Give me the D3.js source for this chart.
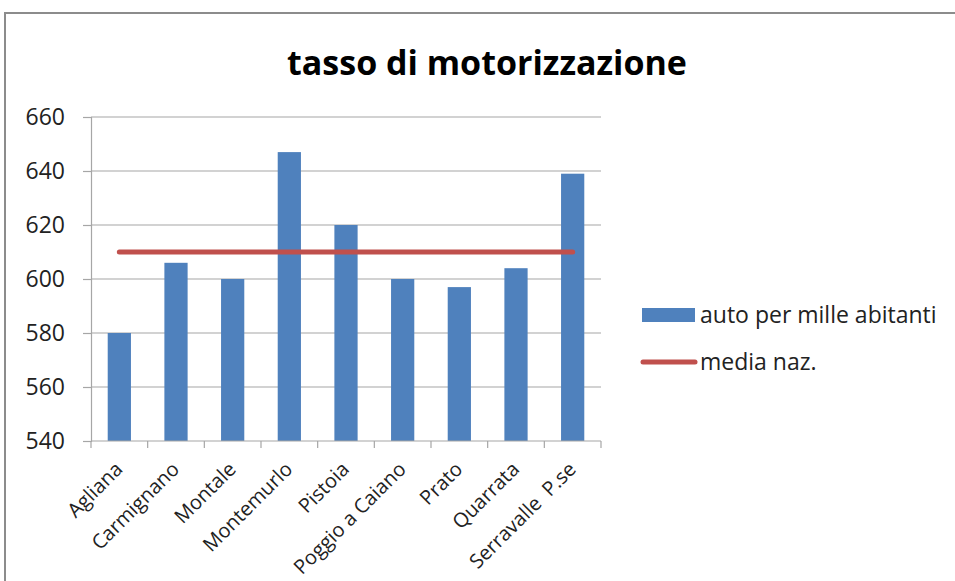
<!DOCTYPE html>
<html>
<head>
<meta charset="utf-8">
<script src="https://cdn.jsdelivr.net/npm/d3@7"></script>
<style>
body { margin: 0; background: #fff; }
svg { display: block; font-family: "Open Sans", sans-serif; }
</style>
</head>
<body>
<svg width="955" height="581"></svg>
<script>
var comuni = ["Agliana", "Carmignano", "Montale", "Montemurlo", "Pistoia", "Poggio a Caiano", "Prato", "Quarrata", "Serravalle  P.se"];
var autoPerMille = [580, 606, 600, 647, 620, 600, 597, 604, 639];
var mediaNaz = [610, 610, 610, 610, 610, 610, 610, 610, 610];
var yTicks = [540, 560, 580, 600, 620, 640, 660];

var svg = d3.select("svg"),
  margin = {top: 117, left: 91},
  width = 510,
  height = 324;

// chart frame
svg.append("path")
  .attr("d", "M5,581V13H955")
  .attr("fill", "none")
  .attr("stroke", "#8c8c8c")
  .attr("stroke-width", 2);

svg.append("text")
  .attr("x", 487)
  .attr("y", 75)
  .attr("text-anchor", "middle")
  .style("font-size", "34px")
  .style("font-weight", "bold")
  .attr("fill", "#000")
  .text("tasso di motorizzazione");

var g = svg.append("g").attr("transform", "translate(" + margin.left + "," + margin.top + ")");

var x = d3.scaleBand().domain(comuni).range([0, width]).paddingInner(0.59).paddingOuter(0.295),
  xb = d3.scaleBand().domain(comuni).range([0, width]),
  y = d3.scaleLinear().domain([540, 660]).range([height, 0]);

// gridlines
g.append("g")
  .selectAll("line")
  .data(yTicks.slice(1))
  .enter().append("line")
  .attr("x1", 0).attr("x2", width)
  .attr("y1", function(d) { return y(d); })
  .attr("y2", function(d) { return y(d); })
  .attr("stroke", "#a6a6a6")
  .attr("stroke-width", 1.2);

var yAxis = g.append("g")
  .call(d3.axisLeft(y).tickValues(yTicks).tickSize(8).tickPadding(18));
yAxis.select(".domain").attr("stroke", "#a6a6a6").attr("stroke-width", 1.2);
yAxis.selectAll(".tick line").attr("stroke", "#a6a6a6").attr("stroke-width", 1.2);
yAxis.selectAll("text").style("font-size", "23px").attr("fill", "#222").attr("font-family", "Open Sans");

// bars
g.selectAll(".bar")
  .data(comuni)
  .enter().append("rect")
  .attr("class", "bar")
  .attr("x", function(d) { return x(d); })
  .attr("width", x.bandwidth())
  .attr("y", function(d, i) { return y(autoPerMille[i]); })
  .attr("height", function(d, i) { return height - y(autoPerMille[i]); })
  .attr("fill", "#4f81bd");

// x axis with ticks at band edges
var xAxis = g.append("g").attr("transform", "translate(0," + height + ")");
xAxis.append("line").attr("x1", 0).attr("x2", width)
  .attr("stroke", "#a6a6a6").attr("stroke-width", 1.2);
xAxis.selectAll(".edge")
  .data(comuni.concat(["end"]))
  .enter().append("line")
  .attr("x1", function(d, i) { return i < comuni.length ? xb(d) : width; })
  .attr("x2", function(d, i) { return i < comuni.length ? xb(d) : width; })
  .attr("y1", 0).attr("y2", 7)
  .attr("stroke", "#a6a6a6").attr("stroke-width", 1.2);
xAxis.selectAll(".lbl")
  .data(comuni)
  .enter().append("text")
  .attr("transform", function(d) { return "translate(" + (xb(d) + xb.bandwidth() / 2 - 4) + ",21) rotate(-45)"; })
  .attr("text-anchor", "end")
  .attr("dy", "0.6em")
  .style("font-size", "20px")
  .style("white-space", "pre")
  .attr("fill", "#222")
  .text(function(d) { return d; });

// media line
var line = d3.line()
  .x(function(d, i) { return xb(comuni[i]) + xb.bandwidth() / 2; })
  .y(function(d) { return y(d); });
g.append("path")
  .datum(mediaNaz)
  .attr("d", line)
  .attr("fill", "none")
  .attr("stroke", "#c0504d")
  .attr("stroke-width", 5)
  .attr("stroke-linecap", "round");

// legend
var legend = svg.append("g").attr("transform", "translate(642,0)");
legend.append("rect")
  .attr("x", 0).attr("y", 308).attr("width", 53).attr("height", 14)
  .attr("fill", "#4f81bd");
legend.append("text")
  .attr("x", 58).attr("y", 323)
  .style("font-size", "23px").attr("fill", "#222")
  .text("auto per mille abitanti");
legend.append("line")
  .attr("x1", 1).attr("x2", 53).attr("y1", 362).attr("y2", 362)
  .attr("stroke", "#c0504d").attr("stroke-width", 5).attr("stroke-linecap", "round");
legend.append("text")
  .attr("x", 58).attr("y", 370)
  .style("font-size", "23px").attr("fill", "#222")
  .text("media naz.");
</script>
</body>
</html>
